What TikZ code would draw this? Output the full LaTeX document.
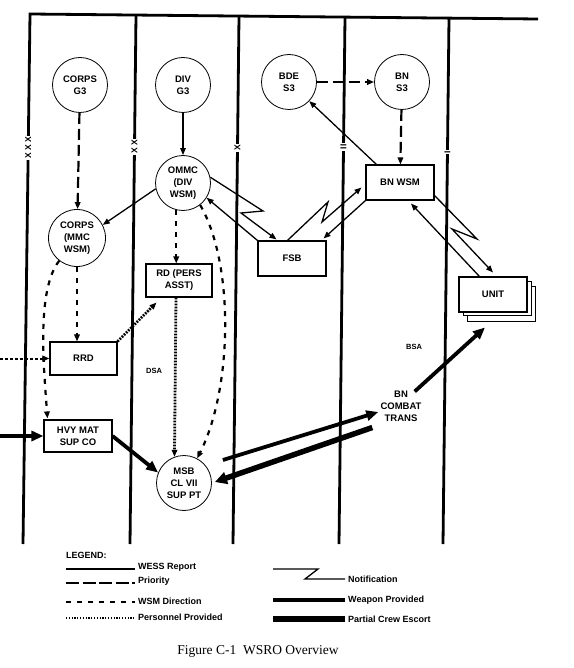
\documentclass[tikz,border=0pt]{standalone}
\usepackage{fontspec}
\newfontfamily\hv{Liberation Sans}
\newfontfamily\tms{Liberation Serif}
\usetikzlibrary{arrows.meta,calc}
\newcommand\lblfont{\hv\bfseries\fontsize{9.5}{12}\selectfont}
\newcommand\legfont{\hv\bfseries\fontsize{9}{10}\selectfont}
\newcommand\smfont{\hv\bfseries\fontsize{7.5}{9}\selectfont}
\newcommand\echfont{\hv\bfseries\fontsize{8.5}{9}\selectfont}
\begin{document}
\begin{tikzpicture}[x=1pt,y=-1pt,
  circ/.style={circle,draw,line width=0.8pt,minimum size=55pt,inner sep=0pt,align=center,font=\lblfont,fill=white},
  boxn/.style={rectangle,draw,line width=1.1pt,minimum width=68pt,minimum height=34pt,inner sep=0pt,align=center,font=\lblfont,fill=white},
  txt/.style={align=center,font=\lblfont,inner sep=0pt},
  zoneline/.style={line width=2.8pt,line join=miter},
  ech/.style={fill=white,inner sep=1.2pt,rotate=90,font=\echfont},
  arr/.style={-{Triangle[length=7pt,width=5.5pt]}},
  wess/.style={line width=1.3pt,arr},
  prio/.style={line width=2.2pt,dash pattern=on 11pt off 5pt,arr},
  wsm/.style={line width=2.2pt,dash pattern=on 5pt off 6pt,arr},
  pers/.style={line width=2.8pt,dash pattern=on 1.8pt off 1.2pt,arr},
  persb/.style={line width=2pt,dash pattern=on 3pt off 2pt,arr},
  notif/.style={line width=1.3pt,arr},
  weap/.style={line width=3.8pt,-{Triangle[length=12pt,width=10pt]}},
  crew/.style={line width=5.5pt,-{Triangle[length=12pt,width=12pt]}},
  legtxt/.style={anchor=west,font=\legfont,inner sep=0pt}
]
\useasboundingbox (0,0) rectangle (573,668);
% zone boundaries
\draw[zoneline] (23,544) -- (30,14) -- (538,19);
\draw[zoneline] (136,15) -- (130,544);
\draw[zoneline] (239,16) -- (233,544);
\draw[zoneline] (345,17) -- (339,544);
\draw[zoneline] (449,18) -- (443,544);
\node[ech] (e1) at (28.2,148) {X X X};
\node[ech] (e2) at (134.5,147) {X X};
\node[ech] (e3) at (237.5,148) {X};
\node[ech] (e4) at (343.5,147) {II};
\node[ech] (e5) at (447.5,152) {I};
% nodes
\node[circ] (corpsg3) at (80,85) {CORPS\\G3};
\node[circ] (divg3) at (183,85) {DIV\\G3};
\node[circ] (bde) at (289,82) {BDE\\S3};
\node[circ] (bns3) at (402,82) {BN\\S3};
\node[circ] (ommc) at (183,183) {OMMC\\(DIV\\WSM)};
\node[circ,minimum size=57pt] (corpsmmc) at (77,238) {CORPS\\(MMC\\WSM)};
\node[boxn,minimum width=66pt,minimum height=33pt] (rd) at (179,280.5) {RD (PERS\\ASST)};
\node[boxn,minimum width=67pt,minimum height=33pt] (rrd) at (83.5,358.5) {RRD};
\node[boxn,minimum height=35pt] (fsb) at (292,258.5) {FSB};
\node[boxn,minimum height=35pt] (bnwsm) at (400,182.5) {BN WSM};
\node[boxn,minimum height=35pt,line width=0.9pt] (unit3) at (501,303.5) {};
\node[boxn,minimum height=34pt,line width=0.9pt] (unit2) at (497,298) {};
\node[boxn,minimum height=35pt] (unit) at (493,294.5) {UNIT};
\node[boxn,minimum height=32pt] (hvy) at (78,436) {HVY MAT\\SUP CO};
\node[circ] (msb) at (184,483) {MSB\\CL VII\\SUP PT};
\node[txt] (bnct) at (401,406) {BN\\COMBAT\\TRANS};
\node[txt,font=\smfont] (bsa) at (414,347) {BSA};
\node[txt,font=\smfont] (dsa) at (154,371) {DSA};
% connectors
\draw[prio] (corpsg3) -- (corpsmmc);
\draw[wess] (divg3) -- (ommc);
\draw[prio] (bde) -- (bns3);
\draw[prio] (bns3) -- (bnwsm);
\draw[wess] ($(bnwsm.north west)+(11,0)$) -- (bde);
\draw[wess] (ommc.192) -- (corpsmmc.27);
\coordinate (n1a) at (263,211);
\coordinate (n1b) at (241,213);
\draw[notif] (ommc.12) -- (n1a) -- (n1b) -- ($(fsb.north west)+(19,-1)$);
\draw[wess] (fsb.north west) -- (ommc.-32);
\coordinate (n2a) at (328,202);
\coordinate (n2b) at (322,222);
\draw[notif] ($(fsb.north west)+(30,0)$) -- (n2a) -- (n2b) -- ($(bnwsm.west)+(-4,5)$);
\draw[wess] (bnwsm.south west) -- ($(fsb.north east)+(-3,-2)$);
\coordinate (n3a) at (477,239);
\coordinate (n3b) at (452,229);
\draw[notif] ($(bnwsm.south east)+(0,-5)$) -- (n3a) -- (n3b) -- ($(unit.north)+(0,-4)$);
\draw[wess] ($(unit.north west)+(21,0)$) -- ($(bnwsm.south)+(11,3)$);
\draw[wsm] (ommc.-104) -- (ommc.-104 |- rd.north);
\draw[pers] ($(rd.south)+(-3,0)$) -- (msb.110);
\draw[wsm] (ommc.-52) .. controls (235,265) and (232,390) .. (msb.62);
\draw[wsm] (corpsmmc) -- (corpsmmc |- rrd.north);
\draw[wsm] (corpsmmc.-128) .. controls (36,290) and (44,370) .. ($(hvy.north west)+(4,-1)$);
\coordinate (extrrd) at (0,358.5);
\draw[persb] (extrrd) -- (rrd.west);
\draw[pers] (rrd.north east) -- ($(rd.south west)+(11,5)$);
\coordinate (exthvy) at (0,436);
\draw[weap] (exthvy) -- (hvy.west);
\draw[weap] (hvy.east) -- (msb.158);
\draw[weap] ($(msb.east)+(11,-23)$) -- ($(bnct.west)+(-2,6)$);
\draw[crew] ($(bnct.south west)+(-8,6)$) -- ($(msb.east)+(3,-1)$);
\draw[weap] ($(bnct.north east)+(-7,1)$) -- ($(unit3.south)+(-16,6)$);
% legend
\node[legtxt] (leg) at (66,555) {LEGEND:};
\draw[line width=1.3pt] (66,569) -- (135,569);
\node[legtxt] (l1) at (138,567) {WESS Report};
\draw[line width=2.2pt,dash pattern=on 13pt off 3.5pt] (66,583) -- (135,583);
\node[legtxt] (l2) at (138,581) {Priority};
\draw[line width=2.2pt,dash pattern=on 5pt off 6pt] (66,602) -- (135,602);
\node[legtxt] (l3) at (138,601) {WSM Direction};
\draw[line width=2pt,dash pattern=on 1.2pt off 1.6pt] (66,618) -- (135,618);
\node[legtxt] (l4) at (138,617) {Personnel Provided};
\draw[line width=1.3pt] (273,569) -- (318,569) -- (305,579) -- (345,579);
\node[legtxt] (l5) at (348,579) {Notification};
\draw[line width=3.8pt] (273,600) -- (345,600);
\node[legtxt] (l6) at (348,600) {Weapon Provided};
\draw[line width=5.5pt] (273,619) -- (345,619);
\node[legtxt] (l7) at (348,619) {Partial Crew Escort};
\node[font=\tms\fontsize{13.5}{15}\selectfont,inner sep=0pt] (cap) at (258,651) {Figure C-1\enspace WSRO Overview};
\end{tikzpicture}
\end{document}
